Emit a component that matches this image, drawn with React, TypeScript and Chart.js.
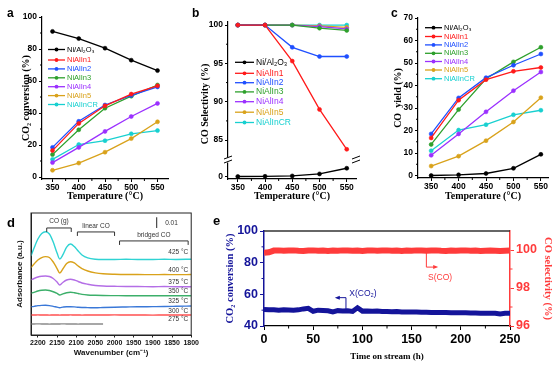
import React, { useEffect, useRef } from "react";
import { Chart, registerables } from "chart.js";

Chart.register(...registerables);

const SANS = "'Liberation Sans', Arial, Helvetica, sans-serif";
const SERIF = "'Liberation Serif', 'Times New Roman', Times, serif";

// ---------- data: panels a, b, c ----------
const temps = [350, 400, 450, 500, 550];
const seriesNames = ["Ni/Al₂O₃", "NiAlIn1", "NiAlIn2", "NiAlIn3", "NiAlIn4", "NiAlIn5", "NiAlInCR"];
const seriesColors = ["#000000", "#ff1a1a", "#1f4fff", "#2ea02c", "#9b30ff", "#d9a21b", "#18d0d0"];

const convNiAl = [91, 86.5, 80.5, 73, 66.5];
const convIn1 = [16.5, 33.5, 44.5, 51.8, 57];
const convIn2 = [18.5, 34.8, 45, 51, 56.3];
const convIn3 = [14, 29.5, 43, 50.5, 57.5];
const convIn4 = [9, 18.5, 28.5, 37.8, 46];
const convIn5 = [4.2, 8.7, 15.5, 24, 34.5];
const convCR = [11, 20.3, 22.7, 27, 29];

const selNiAl = [0, 0.3, 1, 4.5, 14.5];
const selIn1 = [100, 100, 95.3, 89, 83.8];
const selIn2 = [100, 100, 97.1, 95.9, 95.9];
const selIn3 = [100, 100, 100, 99.6, 99.3];
const selIn4 = [100, 100, 100, 99.8, 99.5];
const selIn5 = [100, 100, 100, 99.9, 99.7];
const selCR = [100, 100, 100, 100, 100];

const yieldNiAl = [0, 0.3, 0.9, 3.2, 9.4];
const yieldIn1 = [16.7, 33.5, 42.6, 46.3, 48];
const yieldIn2 = [18.5, 34.5, 43.5, 49, 54];
const yieldIn3 = [13.8, 29.3, 43, 50.5, 57];
const yieldIn4 = [9, 18.5, 28.3, 37.7, 46];
const yieldIn5 = [4.2, 8.6, 15.5, 23.8, 34.6];
const yieldCR = [11, 20.2, 22.6, 27, 29];

const tickA = [0, 20, 40, 60, 80, 100];
const tickBUpper = [85, 90, 95, 100];
const tickBLower = [0, 15];
const tickC = [0, 10, 20, 30, 40, 50, 60, 70];

// ---------- data: panel d (absorbance, 10^-3 a.u. incl. offsets) ----------
const wnD = [2218, 2210, 2200, 2190, 2180, 2170, 2160, 2150, 2143, 2135, 2125, 2115, 2105, 2095, 2085, 2070, 2050, 2030, 2000, 1970, 1940, 1900, 1870, 1840, 1800];
const abs425 = [73.8, 81.3, 89.7, 94.9, 96.5, 94.4, 86.9, 76.6, 71.0, 74.8, 82.2, 85.0, 82.7, 78.5, 74.8, 72.0, 70.8, 70.6, 70.6, 70.8, 70.6, 70.6, 70.8, 70.6, 70.8];
const abs400 = [62.9, 66.4, 70.1, 72.4, 73.2, 72.4, 68.2, 62.1, 57.9, 61.7, 66.8, 68.5, 67.3, 64.5, 62.1, 59.8, 58.1, 57.2, 56.7, 56.5, 56.5, 56.4, 56.5, 56.4, 56.5];
const abs375 = [51.4, 52.8, 54.2, 54.9, 55.1, 54.7, 52.8, 49.5, 46.7, 49.1, 51.4, 52.1, 51.4, 50.0, 48.6, 47.4, 46.3, 45.8, 45.5, 45.3, 45.3, 45.1, 45.3, 45.1, 45.1];
const abs350 = [39.0, 39.9, 41.1, 41.8, 42.1, 41.6, 40.4, 38.8, 37.4, 38.5, 39.5, 39.9, 39.5, 38.8, 38.0, 37.4, 37.1, 36.9, 36.8, 36.7, 36.7, 36.7, 36.7, 36.7, 36.7];
const abs325 = [26.4, 26.8, 27.4, 27.7, 27.8, 27.5, 26.8, 26.0, 25.5, 26.0, 26.4, 26.4, 26.3, 25.9, 25.7, 25.6, 25.4, 25.7, 26.0, 26.2, 26.4, 26.5, 26.6, 26.8, 27.1];
const abs300 = [18.7, 18.7, 18.8, 18.7, 18.7, 18.6, 18.7, 18.7, 18.6, 18.7, 18.7, 18.8, 18.7, 18.7, 18.6, 18.7, 18.7, 18.7, 18.8, 18.7, 18.7, 18.6, 18.7, 18.7, 18.7];
const abs275 = [10.3, 10.3, 10.4, 10.3, 10.3, 10.2, 10.3, 10.3, 10.3, 10.4, 10.3, 10.3, 10.3, 10.2, 10.3, 10.3, 10.3, 10.3, null, null, null, null, null, null, null];
const tempLabelsD = ["425 °C", "400 °C", "375 °C", "350 °C", "325 °C", "300 °C", "275 °C"];
const tempLabelLevelD = [77, 60.7, 49.8, 41.1, 31.8, 22.7, 14.7];
const tickD = [2200, 2150, 2100, 2050, 2000, 1950, 1900, 1850, 1800];

// ---------- data: panel e ----------
const timeE = [0, 5, 10, 15, 20, 25, 30, 35, 40, 45, 50, 55, 60, 65, 70, 75, 80, 85, 90, 95, 100, 105, 110, 115, 120, 125, 130, 135, 140, 145, 150, 155, 160, 165, 170, 175, 180, 185, 190, 195, 200, 205, 210, 215, 220, 225, 230, 235, 240, 245, 250];
const convE = [50.4, 50.3, 50.2, 50.0, 50.3, 50.1, 49.9, 50.2, 50.8, 51.2, 49.3, 50.0, 49.8, 49.6, 48.9, 49.7, 49.5, 49.6, 49.2, 51.5, 49.4, 49.5, 49.3, 49.4, 49.2, 49.1, 49.0, 49.1, 48.9, 48.9, 48.8, 48.9, 48.7, 48.7, 48.6, 48.6, 48.5, 48.5, 48.4, 48.4, 48.3, 48.3, 48.2, 48.2, 48.1, 48.1, 48.0, 48.1, 47.6, 48.0, 48.0];
const selE = [99.85, 99.88, 99.97, 99.98, 99.96, 99.97, 99.98, 99.96, 99.95, 99.97, 99.98, 99.96, 99.97, 99.95, 99.97, 99.96, 99.98, 99.97, 99.96, 99.97, 99.95, 99.97, 99.98, 99.96, 99.97, 99.98, 99.96, 99.97, 99.95, 99.97, 99.96, 99.98, 99.97, 99.96, 99.97, 99.98, 99.96, 99.95, 99.97, 99.96, 99.97, 99.98, 99.96, 99.97, 99.95, 99.96, 99.97, 99.96, 99.95, 99.96, 99.97];
const tickE = [0, 50, 100, 150, 200, 250];
const tickELeft = [40, 60, 80, 100];
const tickERight = [96, 98, 100];

// ---------- helpers ----------
const fixTicks = (vals: number[]) => (s: any) => {
  s.ticks = vals.map((v) => ({ value: v }));
};

function seg(ctx: CanvasRenderingContext2D, x1: number, y1: number, x2: number, y2: number, color: string, w = 1) {
  ctx.save();
  ctx.strokeStyle = color;
  ctx.lineWidth = w;
  ctx.beginPath();
  ctx.moveTo(x1, y1);
  ctx.lineTo(x2, y2);
  ctx.stroke();
  ctx.restore();
}

function txt(ctx: CanvasRenderingContext2D, s: string, x: number, y: number, font: string, color: string, align: CanvasTextAlign = "left", rot = 0) {
  ctx.save();
  ctx.translate(x, y);
  ctx.rotate(rot);
  ctx.font = font;
  ctx.fillStyle = color;
  ctx.textAlign = align;
  ctx.textBaseline = "middle";
  ctx.fillText(s, 0, 0);
  ctx.restore();
}

function minorX(ctx: CanvasRenderingContext2D, sc: any, vals: number[], len: number, color = "#000") {
  vals.forEach((v) => {
    const p = sc.getPixelForValue(v);
    seg(ctx, p, sc.top, p, sc.top + len, color, 1);
  });
}
function minorY(ctx: CanvasRenderingContext2D, sc: any, vals: number[], len: number, color = "#000", side = "left") {
  vals.forEach((v) => {
    const p = sc.getPixelForValue(v);
    if (side === "left") seg(ctx, sc.right - len, p, sc.right, p, color, 1);
    else seg(ctx, sc.left, p, sc.left + len, p, color, 1);
  });
}

function drawLegend(ctx: CanvasRenderingContext2D, x1: number, x2: number, tx: number, ys: number[], size: number) {
  seriesNames.forEach((name, i) => {
    const y = ys[i];
    const c = seriesColors[i];
    seg(ctx, x1, y, x2, y, c, 1.3);
    ctx.save();
    ctx.fillStyle = c;
    ctx.beginPath();
    ctx.arc((x1 + x2) / 2, y, 1.9, 0, Math.PI * 2);
    ctx.fill();
    ctx.restore();
    txt(ctx, name, tx, y, `${size}px ${SANS}`, c);
  });
}

const extras = (id: string, fn: (chart: any, ctx: CanvasRenderingContext2D) => void) => ({
  id,
  afterDraw(chart: any) {
    fn(chart, chart.ctx);
  },
});

function ds(label: string, vals: number[], color: string, yAxisID = "y") {
  return {
    label,
    data: temps.map((t, i) => ({ x: t, y: vals[i] })),
    borderColor: color,
    backgroundColor: color,
    pointBackgroundColor: color,
    pointBorderColor: color,
    borderWidth: 1.3,
    pointRadius: 2,
    pointBorderWidth: 0.6,
    tension: 0,
    yAxisID,
  };
}

const axisGrid = { drawOnChartArea: false, drawTicks: true, tickLength: 3, color: "#000", tickColor: "#000", tickWidth: 1 };
const axisBorder = { display: true, color: "#000", width: 1.2 };
const tickFont = { family: SANS, size: 8.5, weight: "bold" as const };

function tempX(min: number, max: number, h: number) {
  return {
    type: "linear" as const,
    min,
    max,
    afterBuildTicks: fixTicks(temps),
    afterFit: (s: any) => {
      s.height = h;
    },
    grid: axisGrid,
    border: axisBorder,
    ticks: { color: "#000", font: tickFont, padding: 1, maxRotation: 0, autoSkip: false, callback: (v: any) => String(v) },
    title: {
      display: true,
      text: "Temperature (°C)",
      color: "#000",
      font: { family: SERIF, size: 10, weight: "bold" as const },
      padding: { top: 0, bottom: 2.5 },
    },
  };
}

function valueY(min: number, max: number, ticks: number[], w: number, title: string | null, titlePad: number, extra: any = {}) {
  return {
    type: "linear" as const,
    min,
    max,
    afterBuildTicks: fixTicks(ticks),
    afterFit: (s: any) => {
      s.width = w;
    },
    grid: axisGrid,
    border: axisBorder,
    ticks: { color: "#000", font: tickFont, padding: 2, callback: (v: any) => String(v) },
    title: {
      display: !!title,
      text: title || "",
      color: "#000",
      font: { family: SERIF, size: 10, weight: "bold" as const },
      padding: { top: titlePad, bottom: 0 },
    },
    ...extra,
  };
}

const baseOpts = {
  responsive: false,
  animation: false as const,
  plugins: { legend: { display: false }, tooltip: { enabled: false } },
};

// ---------- panel configs ----------
function buildA() {
  const sets = [convNiAl, convIn1, convIn2, convIn3, convIn4, convIn5, convCR];
  return {
    type: "line",
    data: { datasets: sets.map((s, i) => ds(seriesNames[i], s, seriesColors[i])) },
    options: {
      ...baseOpts,
      layout: { padding: { top: 17, right: 12, left: 0, bottom: 0 } },
      scales: {
        x: tempX(330, 570, 26),
        y: valueY(-1.25, 100, tickA, 42, "CO₂ conversion (%)", 20),
      },
    },
    plugins: [
      extras("exA", (chart, ctx) => {
        minorX(ctx, chart.scales.x, [375, 425, 475, 525], 2);
        minorY(ctx, chart.scales.y, [10, 30, 50, 70, 90], 2);
        drawLegend(ctx, 48, 65, 67, [49.5, 60, 68.9, 77.8, 86.7, 95.6, 104.5], 7.5);
      }),
    ],
  };
}

function buildB() {
  const upper = [selIn1, selIn2, selIn3, selIn4, selIn5, selCR];
  const datasets: any[] = [ds(seriesNames[0], selNiAl, seriesColors[0], "yLow")];
  upper.forEach((s, i) => datasets.push(ds(seriesNames[i + 1], s, seriesColors[i + 1], "y")));
  return {
    type: "line",
    data: { datasets },
    options: {
      ...baseOpts,
      layout: { padding: { top: 22, right: 9, left: 0, bottom: 0 } },
      scales: {
        x: tempX(332, 567, 26),
        y: valueY(82.4, 100.4, tickBUpper, 48, null, 0, { position: "left", stack: "sel", stackWeight: 138, weight: 1 }),
        yLow: valueY(-4.4, 29, tickBLower, 48, null, 0, { position: "left", stack: "sel", stackWeight: 19, weight: 0 }),
      },
    },
    plugins: [
      extras("exB", (chart, ctx) => {
        const { left, right } = chart.chartArea;
        minorX(ctx, chart.scales.x, [375, 425, 475, 525], 2);
        minorY(ctx, chart.scales.y, [87.5, 92.5, 97.5], 2);
        const by = chart.scales.y.bottom;
        [left, right].forEach((x) => {
          ctx.save();
          ctx.fillStyle = "#fff";
          ctx.fillRect(x - 2, by - 2.5, 4, 5);
          ctx.restore();
          seg(ctx, x - 4, by - 1, x + 4, by - 4, "#000", 1);
          seg(ctx, x - 4, by + 3, x + 4, by, "#000", 1);
        });
        txt(ctx, "CO Selectivity (%)", 25, 104, `bold 10px ${SERIF}`, "#000", "center", -Math.PI / 2);
        drawLegend(ctx, 55, 74, 76, [62.3, 73.3, 82.7, 91.9, 101.7, 112.2, 122.5], 8.5);
      }),
    ],
  };
}

function buildC() {
  const sets = [yieldNiAl, yieldIn1, yieldIn2, yieldIn3, yieldIn4, yieldIn5, yieldCR];
  return {
    type: "line",
    data: { datasets: sets.map((s, i) => ds(seriesNames[i], s, seriesColors[i])) },
    options: {
      ...baseOpts,
      layout: { padding: { top: 18, right: 6, left: 0, bottom: 0 } },
      scales: {
        x: tempX(326, 563, 27),
        y: valueY(-1.1, 70, tickC, 53, "CO  yield (%)", 27),
      },
    },
    plugins: [
      extras("exC", (chart, ctx) => {
        minorX(ctx, chart.scales.x, [375, 425, 475, 525], 2);
        minorY(ctx, chart.scales.y, [5, 15, 25, 35, 45, 55, 65], 2);
        drawLegend(ctx, 60, 77, 79, [27.7, 36.5, 44.9, 53.3, 61.5, 70, 78.7], 7.5);
      }),
    ],
  };
}

function buildD() {
  const sets = [abs425, abs400, abs375, abs350, abs325, abs300, abs275];
  const colors = ["#2fd3d3", "#d9a21b", "#b46ee6", "#3caf6a", "#3a78d8", "#ff5050", "#8a8a8a"];
  return {
    type: "line",
    data: {
      datasets: sets.map((s, i) => ({
        label: tempLabelsD[i],
        data: wnD.map((w, j) => ({ x: w, y: s[j] })),
        borderColor: colors[i],
        borderWidth: 1.4,
        pointRadius: 0,
        cubicInterpolationMode: "monotone",
        spanGaps: false,
      })),
    },
    options: {
      ...baseOpts,
      layout: { padding: { top: 8, right: 6, left: 0, bottom: 0 } },
      scales: {
        x: {
          type: "linear",
          reverse: true,
          min: 1800,
          max: 2218,
          afterBuildTicks: fixTicks(tickD),
          afterFit: (s: any) => {
            s.height = 33;
          },
          grid: { drawOnChartArea: false, drawTicks: true, tickLength: 2.5, color: "#222", tickColor: "#222" },
          border: { display: true, color: "#222", width: 1 },
          ticks: { color: "#111", font: { family: SANS, size: 7, weight: "bold" }, padding: 1, maxRotation: 0, autoSkip: false, callback: (v: any) => String(v) },
          title: { display: true, text: "Wavenumber (cm⁻¹)", color: "#111", font: { family: SANS, size: 8, weight: "bold" }, padding: { top: 0, bottom: 10 } },
        },
        y: {
          type: "linear",
          min: 0,
          max: 114,
          afterFit: (s: any) => {
            s.width = 31;
          },
          grid: { display: false },
          border: { display: true, color: "#222", width: 1 },
          ticks: { display: false },
          title: { display: true, text: "Adsorbance (a.u.)", color: "#111", font: { family: SANS, size: 8, weight: "bold" }, padding: { top: 15, bottom: 0 } },
        },
      },
    },
    plugins: [
      extras("exD", (chart, ctx) => {
        const { left, right, top, bottom } = chart.chartArea;
        const xs = chart.scales.x;
        const ys = chart.scales.y;
        ctx.save();
        ctx.strokeStyle = "#222";
        ctx.lineWidth = 1;
        ctx.strokeRect(left, top, right - left, bottom - top);
        ctx.restore();
        const f = `6.5px ${SANS}`;
        tempLabelsD.forEach((l, i) => txt(ctx, l, right - 3, ys.getPixelForValue(tempLabelLevelD[i]), f, "#333", "right"));
        const brackets = [
          { a: 2177, b: 2113, lvl: 100, tl: 106.8, label: "CO (g)" },
          { a: 2097, b: 2000, lvl: 96.3, tl: 102.1, label: "linear CO" },
          { a: 1987, b: 1808, lvl: 87.9, tl: 92.8, label: "bridged CO" },
        ];
        brackets.forEach((br) => {
          const x1 = xs.getPixelForValue(br.a);
          const x2 = xs.getPixelForValue(br.b);
          const y = ys.getPixelForValue(br.lvl);
          seg(ctx, x1, y, x2, y, "#333", 1);
          seg(ctx, x1, y, x1, y + 4, "#333", 1);
          seg(ctx, x2, y, x2, y + 4, "#333", 1);
          txt(ctx, br.label, (x1 + x2) / 2, ys.getPixelForValue(br.tl), f, "#333", "center");
        });
        const sx = xs.getPixelForValue(1890);
        seg(ctx, sx, ys.getPixelForValue(100), sx, ys.getPixelForValue(110), "#222", 1);
        txt(ctx, "0.01", xs.getPixelForValue(1868), ys.getPixelForValue(104.7), f, "#333", "left");
      }),
    ],
  };
}

function buildE() {
  const navy = "#14149a";
  const red = "#ff3b3b";
  return {
    type: "line",
    data: {
      datasets: [
        {
          label: "S(CO)",
          data: timeE.map((t, i) => ({ x: t, y: selE[i] })),
          borderColor: red,
          borderWidth: 6,
          pointRadius: 0,
          tension: 0,
          yAxisID: "y2",
        },
        {
          label: "X(CO₂)",
          data: timeE.map((t, i) => ({ x: t, y: convE[i] })),
          borderColor: navy,
          borderWidth: 5,
          pointRadius: 0,
          tension: 0,
          yAxisID: "y",
        },
      ],
    },
    options: {
      ...baseOpts,
      layout: { padding: { top: 26, right: 0, left: 0, bottom: 0 } },
      scales: {
        x: {
          type: "linear",
          min: 0,
          max: 250,
          afterBuildTicks: fixTicks(tickE),
          afterFit: (s: any) => {
            s.height = 42;
          },
          grid: { drawOnChartArea: false, drawTicks: true, tickLength: 4, color: "#000", tickColor: "#000" },
          border: { display: true, color: "#000", width: 1.3 },
          ticks: { color: "#000", font: { family: SANS, size: 12.5, weight: "bold" }, padding: 2, maxRotation: 0, autoSkip: false, callback: (v: any) => String(v) },
          title: { display: true, text: "Time on stream (h)", color: "#000", font: { family: SERIF, size: 9, weight: "bold" }, padding: { top: 0, bottom: 5.6 } },
        },
        y: {
          type: "linear",
          position: "left",
          min: 40,
          max: 100,
          afterBuildTicks: fixTicks(tickELeft),
          afterFit: (s: any) => {
            s.width = 64;
          },
          grid: { drawOnChartArea: false, drawTicks: true, tickLength: 4, color: navy, tickColor: navy },
          border: { display: true, color: navy, width: 1.5 },
          ticks: { color: navy, font: { family: SANS, size: 12.5, weight: "bold" }, padding: 2, callback: (v: any) => String(v) },
          title: { display: true, text: "CO₂ conversion (%)", color: navy, font: { family: SERIF, size: 10.5, weight: "bold" }, padding: { top: 23.7, bottom: 0 } },
        },
        y2: {
          type: "linear",
          position: "right",
          min: 96,
          max: 101,
          afterBuildTicks: fixTicks(tickERight),
          afterFit: (s: any) => {
            s.width = 44;
          },
          grid: { drawOnChartArea: false, drawTicks: true, tickLength: 4, color: red, tickColor: red },
          border: { display: true, color: red, width: 1.5 },
          ticks: { color: red, font: { family: SANS, size: 12.5, weight: "bold" }, padding: 2, callback: (v: any) => String(v) },
          title: { display: true, text: "CO selectivity (%)", color: red, font: { family: SERIF, size: 10.5, weight: "bold" }, padding: { top: 0, bottom: 0 } },
        },
      },
    },
    plugins: [
      extras("exE", (chart, ctx) => {
        const { left, right, top } = chart.chartArea;
        const xs = chart.scales.x;
        const yl = chart.scales.y;
        const yr = chart.scales.y2;
        seg(ctx, left, top, right, top, "#333", 1.5);
        minorX(ctx, xs, [25, 75, 125, 175, 225], 2.5);
        minorY(ctx, yl, [50, 70, 90], 2.5, navy, "left");
        minorY(ctx, yr, [97, 99], 2.5, red, "right");
        // S(CO) arrow
        const sx = xs.getPixelForValue(165);
        const sy1 = yr.getPixelForValue(99.85);
        const sy2 = yr.getPixelForValue(99.1);
        const sx2 = xs.getPixelForValue(175);
        seg(ctx, sx, sy1, sx, sy2, red, 1);
        seg(ctx, sx, sy2, sx2, sy2, red, 1);
        ctx.save();
        ctx.fillStyle = red;
        ctx.beginPath();
        ctx.moveTo(sx2 + 2, sy2);
        ctx.lineTo(sx2 - 3, sy2 - 2);
        ctx.lineTo(sx2 - 3, sy2 + 2);
        ctx.closePath();
        ctx.fill();
        ctx.restore();
        txt(ctx, "S(CO)", xs.getPixelForValue(179), yr.getPixelForValue(98.53), `8.5px ${SANS}`, red, "center");
        // X(CO2) arrow
        const bx = xs.getPixelForValue(83.3);
        const by1 = yl.getPixelForValue(50.7);
        const by2 = yl.getPixelForValue(57.9);
        const bx2 = xs.getPixelForValue(74);
        seg(ctx, bx, by1, bx, by2, navy, 1);
        seg(ctx, bx, by2, bx2, by2, navy, 1);
        ctx.save();
        ctx.fillStyle = navy;
        ctx.beginPath();
        ctx.moveTo(bx2 - 2, by2);
        ctx.lineTo(bx2 + 3, by2 - 2);
        ctx.lineTo(bx2 + 3, by2 + 2);
        ctx.closePath();
        ctx.fill();
        ctx.restore();
        txt(ctx, "X(CO₂)", xs.getPixelForValue(100.6), yl.getPixelForValue(60.6), `8.5px ${SANS}`, navy, "center");
      }),
    ],
  };
}

function ChartPanel({ x, y, w, h, build }: { x: number; y: number; w: number; h: number; build: () => any }) {
  const ref = useRef<HTMLCanvasElement>(null);
  useEffect(() => {
    const chart = new Chart(ref.current as HTMLCanvasElement, build());
    return () => chart.destroy();
  }, []);
  return (
    <div style={{ position: "absolute", left: x, top: y, width: w, height: h }}>
      <canvas ref={ref} width={w} height={h} style={{ width: w, height: h, display: "block" }} />
    </div>
  );
}

function Letter({ ch, x, y, size }: { ch: string; x: number; y: number; size: number }) {
  return (
    <div style={{ position: "absolute", left: x, top: y, fontFamily: SANS, fontWeight: "bold", fontSize: size, lineHeight: `${size}px`, color: "#000" }}>
      {ch}
    </div>
  );
}

export default function App() {
  return (
    <div style={{ position: "absolute", left: 0, top: 0, width: 554, height: 368, background: "#fff", overflow: "hidden" }}>
      <ChartPanel x={0} y={0} w={180} h={205} build={buildA} />
      <ChartPanel x={180} y={0} w={185} h={205} build={buildB} />
      <ChartPanel x={365} y={0} w={189} h={205} build={buildC} />
      <ChartPanel x={0} y={205} w={200} h={163} build={buildD} />
      <ChartPanel x={200} y={205} w={354} h={163} build={buildE} />
      <Letter ch="a" x={7} y={7} size={12} />
      <Letter ch="b" x={192} y={7} size={12} />
      <Letter ch="c" x={391} y={7} size={12} />
      <Letter ch="d" x={7} y={216} size={13} />
      <Letter ch="e" x={213} y={214} size={13} />
    </div>
  );
}
